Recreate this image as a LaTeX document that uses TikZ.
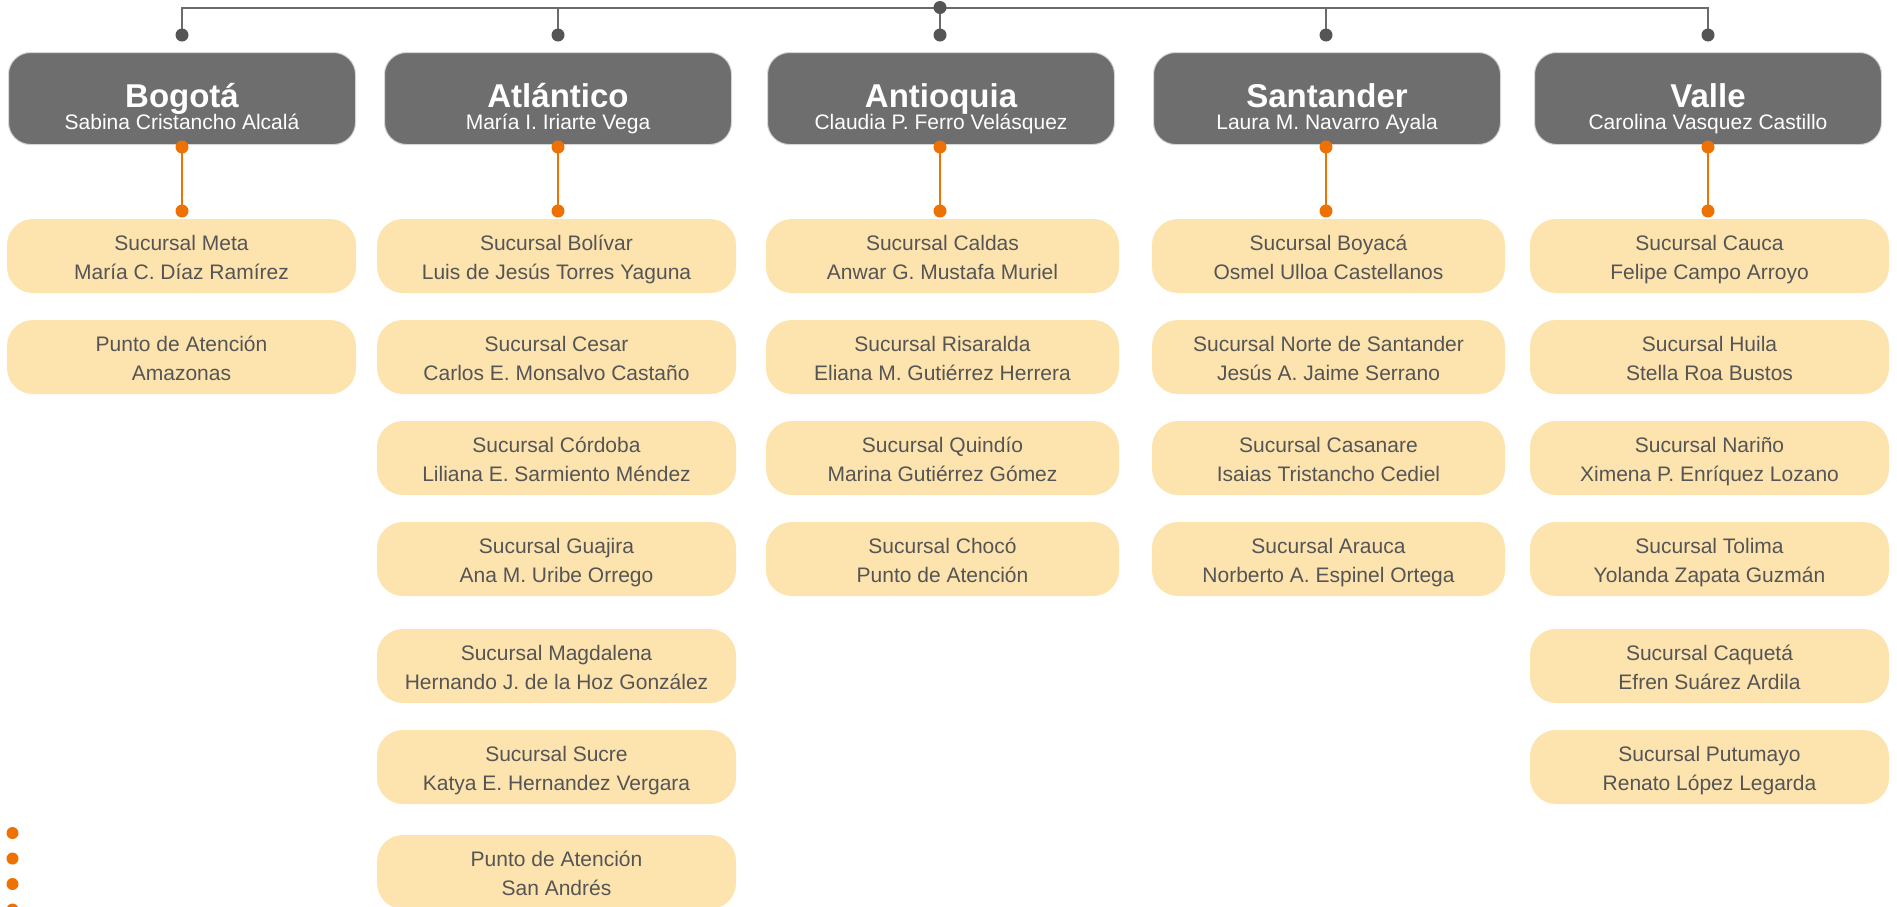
\documentclass[tikz,border=0pt]{standalone}
\usepackage{fontspec}
\setmainfont{Liberation Sans}
\definecolor{hdrgray}{HTML}{6E6E6E}
\definecolor{hdrborder}{HTML}{D6D6D6}
\definecolor{subfill}{HTML}{FDE3AE}
\definecolor{subtext}{HTML}{555555}
\definecolor{dotgray}{HTML}{555555}
\definecolor{bargray}{HTML}{6A6A6A}
\definecolor{orangec}{HTML}{EE7203}
\newcommand{\subtxt}[2]{\rule{0pt}{23.1pt}#1\\\rule[-5pt]{0pt}{5pt}#2}
\begin{document}
\begin{tikzpicture}[x=1pt,y=-1pt,
  hdrbox/.style={rectangle, rounded corners=22pt, fill=hdrgray, draw=hdrborder, line width=1pt, minimum width=347pt, minimum height=92pt, inner sep=0pt},
  hdrtitle/.style={font=\fontsize{33}{33}\selectfont\bfseries, text=white, anchor=base, inner sep=0pt},
  hdrname/.style={font=\fontsize{21}{21}\selectfont, text=white, anchor=base, inner sep=0pt},
  subbox/.style={rectangle, rounded corners=26pt, fill=subfill, minimum height=74pt, align=center, text=subtext, font=\fontsize{21}{28.7}\selectfont, inner sep=0pt},
  wA/.style={minimum width=349pt},
  wB/.style={minimum width=359pt},
  wC/.style={minimum width=353pt},
  bar/.style={draw=bargray, line width=2pt},
  oline/.style={draw=orangec, line width=2.8pt},
  gdot/.style={fill=dotgray},
  odot/.style={fill=orangec}
]
\useasboundingbox (0,0) rectangle (1897,906);

% ---------- header boxes ----------
\node[hdrbox] (hBog) at (182,98.5) {};
\node[hdrbox] (hAtl) at (558,98.5) {};
\node[hdrbox] (hAnt) at (941,98.5) {};
\node[hdrbox] (hSan) at (1327,98.5) {};
\node[hdrbox] (hVal) at (1708,98.5) {};

\node[hdrtitle] (tBog) at (182,107) {Bogotá};
\node[hdrname]  (nBog) at (182,129) {Sabina Cristancho Alcalá};
\node[hdrtitle] (tAtl) at (558,107) {Atlántico};
\node[hdrname]  (nAtl) at (558,129) {María I. Iriarte Vega};
\node[hdrtitle] (tAnt) at (941,107) {Antioquia};
\node[hdrname]  (nAnt) at (941,129) {Claudia P. Ferro Velásquez};
\node[hdrtitle] (tSan) at (1327,107) {Santander};
\node[hdrname]  (nSan) at (1327,129) {Laura M. Navarro Ayala};
\node[hdrtitle] (tVal) at (1708,107) {Valle};
\node[hdrname]  (nVal) at (1708,129) {Carolina Vasquez Castillo};

% ---------- sub boxes ----------
% Bogota
\node[subbox,wA] (sBog1) at (181.5,256) {\subtxt{Sucursal Meta}{María C. Díaz Ramírez}};
\node[subbox,wA] (sBog2) at (181.5,357) {\subtxt{Punto de Atención}{Amazonas}};
% Atlantico
\node[subbox,wB] (sAtl1) at (556.5,256) {\subtxt{Sucursal Bolívar}{Luis de Jesús Torres Yaguna}};
\node[subbox,wB] (sAtl2) at (556.5,357) {\subtxt{Sucursal Cesar}{Carlos E. Monsalvo Castaño}};
\node[subbox,wB] (sAtl3) at (556.5,458) {\subtxt{Sucursal Córdoba}{Liliana E. Sarmiento Méndez}};
\node[subbox,wB] (sAtl4) at (556.5,559) {\subtxt{Sucursal Guajira}{Ana M. Uribe Orrego}};
\node[subbox,wB] (sAtl5) at (556.5,666) {\subtxt{Sucursal Magdalena}{Hernando J. de la Hoz González}};
\node[subbox,wB] (sAtl6) at (556.5,767) {\subtxt{Sucursal Sucre}{Katya E. Hernandez Vergara}};
\node[subbox,wB] (sAtl7) at (556.5,872) {\subtxt{Punto de Atención}{San Andrés}};
% Antioquia
\node[subbox,wC] (sAnt1) at (942.5,256) {\subtxt{Sucursal Caldas}{Anwar G. Mustafa Muriel}};
\node[subbox,wC] (sAnt2) at (942.5,357) {\subtxt{Sucursal Risaralda}{Eliana M. Gutiérrez Herrera}};
\node[subbox,wC] (sAnt3) at (942.5,458) {\subtxt{Sucursal Quindío}{Marina Gutiérrez Gómez}};
\node[subbox,wC] (sAnt4) at (942.5,559) {\subtxt{Sucursal Chocó}{Punto de Atención}};
% Santander
\node[subbox,wC] (sSan1) at (1328.5,256) {\subtxt{Sucursal Boyacá}{Osmel Ulloa Castellanos}};
\node[subbox,wC] (sSan2) at (1328.5,357) {\subtxt{Sucursal Norte de Santander}{Jesús A. Jaime Serrano}};
\node[subbox,wC] (sSan3) at (1328.5,458) {\subtxt{Sucursal Casanare}{Isaias Tristancho Cediel}};
\node[subbox,wC] (sSan4) at (1328.5,559) {\subtxt{Sucursal Arauca}{Norberto A. Espinel Ortega}};
% Valle
\node[subbox,wB] (sVal1) at (1709.5,256) {\subtxt{Sucursal Cauca}{Felipe Campo Arroyo}};
\node[subbox,wB] (sVal2) at (1709.5,357) {\subtxt{Sucursal Huila}{Stella Roa Bustos}};
\node[subbox,wB] (sVal3) at (1709.5,458) {\subtxt{Sucursal Nariño}{Ximena P. Enríquez Lozano}};
\node[subbox,wB] (sVal4) at (1709.5,559) {\subtxt{Sucursal Tolima}{Yolanda Zapata Guzmán}};
\node[subbox,wB] (sVal5) at (1709.5,666) {\subtxt{Sucursal Caquetá}{Efren Suárez Ardila}};
\node[subbox,wB] (sVal6) at (1709.5,767) {\subtxt{Sucursal Putumayo}{Renato López Legarda}};

% ---------- top bar ----------
\coordinate (barL) at (182,7.5);
\coordinate (barC) at (940,7.5);
\coordinate (barR) at (1708,7.5);
\coordinate (dBog) at (182,35);
\coordinate (dAtl) at (558,35);
\coordinate (dAnt) at (940,35);
\coordinate (dSan) at (1326,35);
\coordinate (dVal) at (1708,35);
\draw[bar] (dBog) -- (barL) -- (barR) -- (dVal);
\draw[bar] (dAtl) -- (dAtl |- barC);
\draw[bar] (barC) -- (dAnt);
\draw[bar] (dSan) -- (dSan |- barC);
\foreach \p in {dBog,dAtl,dAnt,dSan,dVal,barC} \fill[gdot] (\p) circle (6.5pt);

% ---------- orange connectors ----------
\coordinate (oBogT) at (182,147);  \coordinate (oBogB) at (182,211);
\coordinate (oAtlT) at (558,147);  \coordinate (oAtlB) at (558,211);
\coordinate (oAntT) at (940,147);  \coordinate (oAntB) at (940,211);
\coordinate (oSanT) at (1326,147); \coordinate (oSanB) at (1326,211);
\coordinate (oValT) at (1708,147); \coordinate (oValB) at (1708,211);
\draw[oline] (hBog.south -| oBogT) -- (oBogB);
\draw[oline] (hAtl.south -| oAtlT) -- (oAtlB);
\draw[oline] (hAnt.south -| oAntT) -- (oAntB);
\draw[oline] (hSan.south -| oSanT) -- (oSanB);
\draw[oline] (hVal.south -| oValT) -- (oValB);
\foreach \p in {oBogT,oBogB,oAtlT,oAtlB,oAntT,oAntB,oSanT,oSanB,oValT,oValB} \fill[odot] (\p) circle (6.5pt);

% ---------- bullets bottom left ----------
\fill[odot] (12.5,833) circle (6pt);
\fill[odot] (12.5,858.5) circle (6pt);
\fill[odot] (12.5,884) circle (6pt);
\fill[odot] (12.5,909.5) circle (6pt);
\end{tikzpicture}
\end{document}
